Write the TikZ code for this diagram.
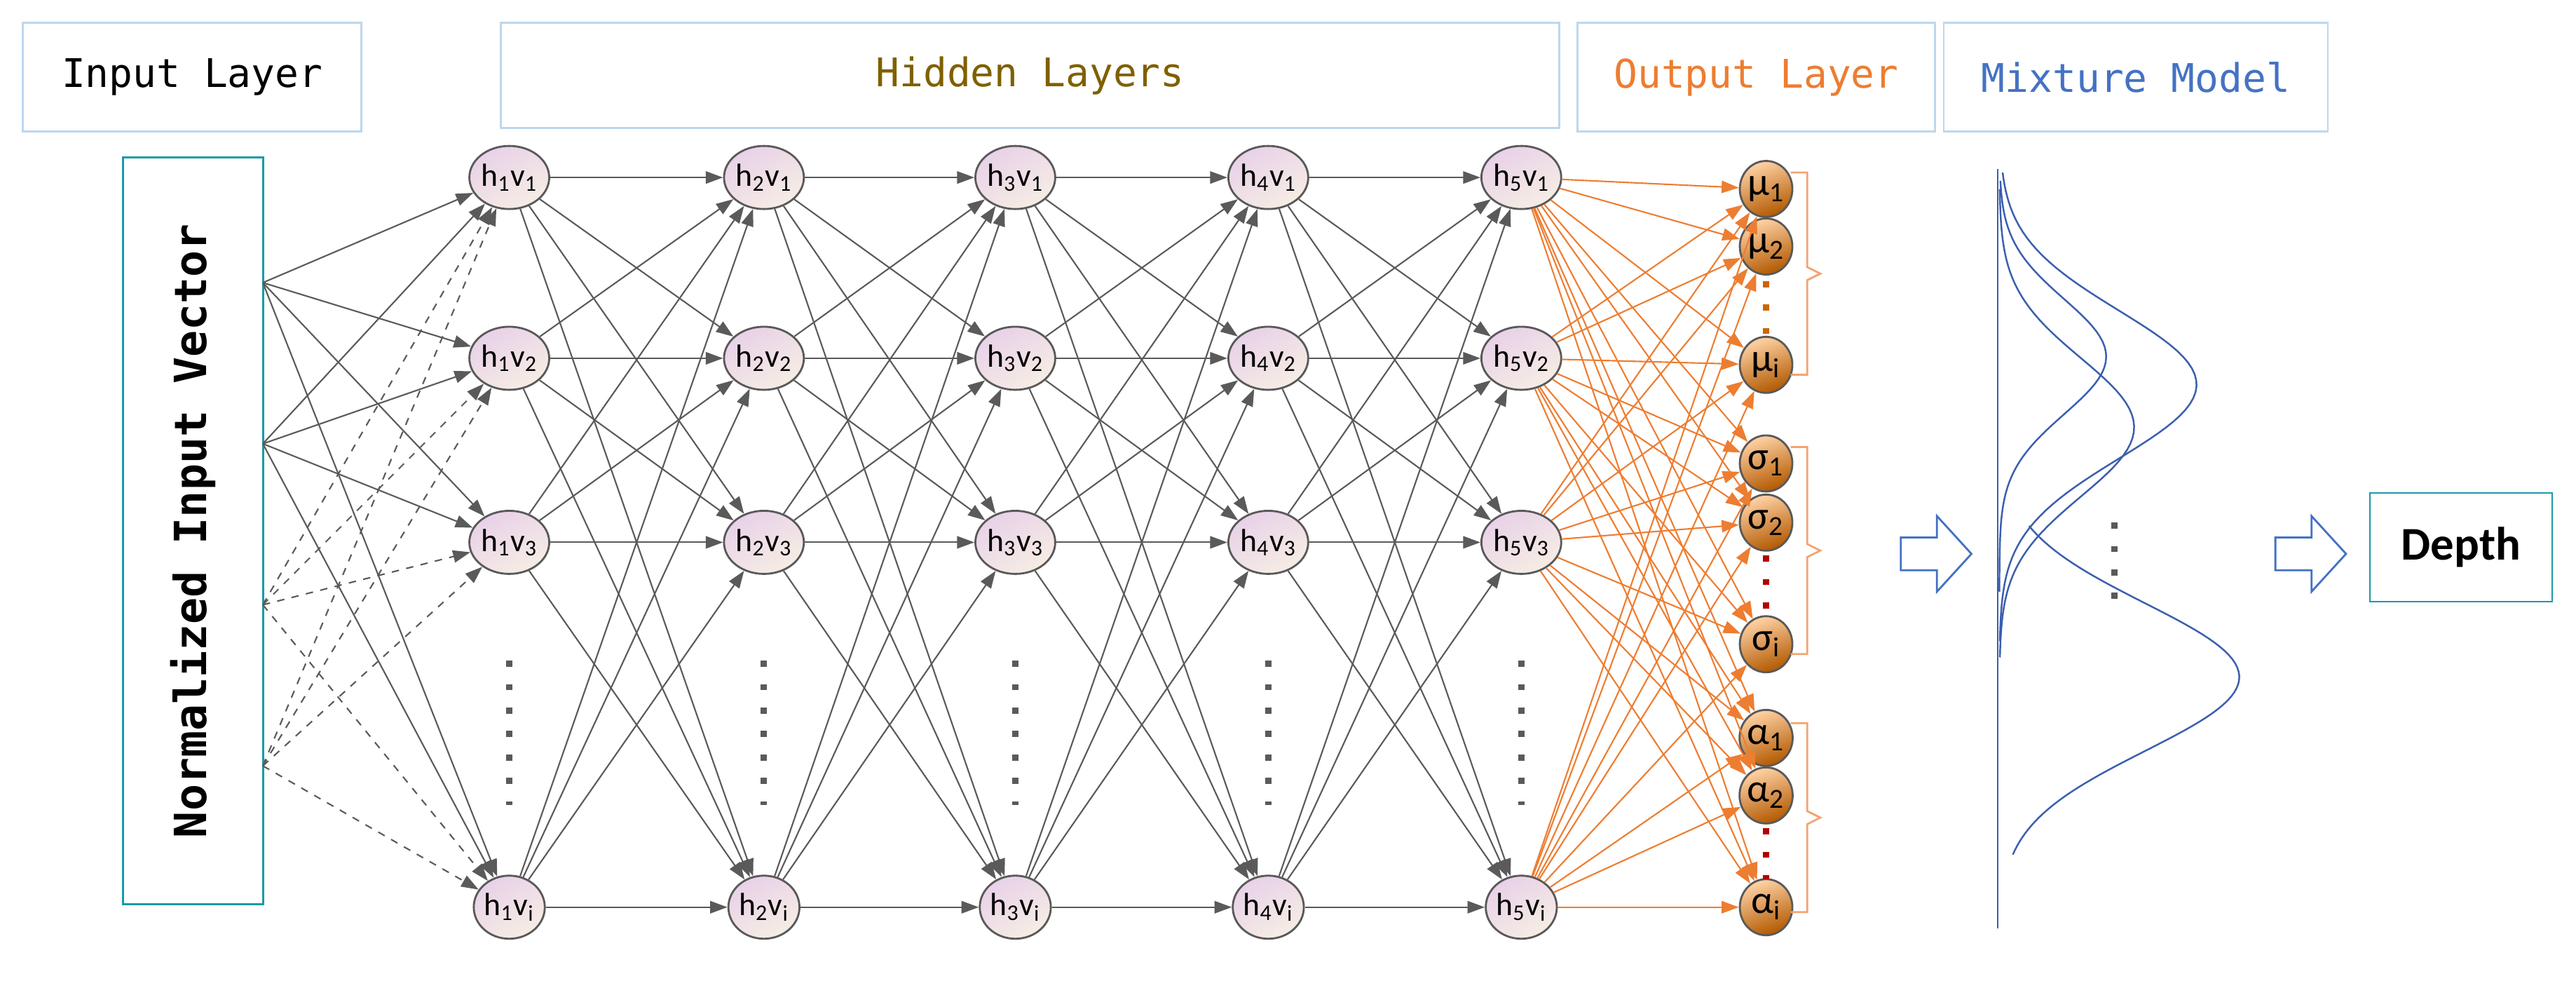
\documentclass[tikz,border=0pt]{standalone}
\usepackage{fontspec}
\setmainfont{Carlito}
\newfontfamily\monofont{DejaVu Sans Mono}
\usetikzlibrary{arrows.meta,shapes.geometric}
\definecolor{boxblue}{HTML}{BDD7EE}
\definecolor{teal}{HTML}{1A9AA8}
\definecolor{hidtext}{HTML}{7F6000}
\definecolor{outorange}{HTML}{ED7D31}
\definecolor{mixblue}{HTML}{3B5FAE}
\definecolor{headblue}{HTML}{4472C4}
\definecolor{edgegray}{HTML}{5A5A5A}
\tikzset{
  head/.style={draw=boxblue,line width=0.8pt,font=\monofont\fontsize{16}{18}\selectfont},
  hid/.style={ellipse,draw=gray!70!black,line width=0.8pt,minimum width=0.80cm,minimum height=0.90cm,
    inner sep=0pt,top color=violet!18,bottom color=brown!14,shading angle=30,font=\fontsize{13}{14}\selectfont},
  outnode/.style={ellipse,draw=gray!70!black,line width=0.8pt,minimum width=0.75cm,minimum height=0.80cm,
    inner sep=0pt,top color=orange!35,bottom color=orange!70!black,shading angle=20,font=\fontsize{16}{17}\selectfont},
  edge/.style={edgegray,line width=0.6pt,-{Triangle[length=7pt,width=5pt]}},
  oedge/.style={outorange,line width=0.6pt,-{Triangle[length=7pt,width=5pt]}},
  brace/.style={outorange!70,line width=0.8pt},
  mix/.style={mixblue,line width=0.7pt},
  dots/.style={line width=2.5pt,dash pattern=on 2.5pt off 7pt},
  bigarrow/.style={draw=headblue,line width=0.8pt,line join=miter},
}
\begin{document}
\begin{tikzpicture}[x=0.02344cm,y=-0.02344cm]
\useasboundingbox (0,0) rectangle (1568,596.5);
% headers
\node[head,minimum width=4.83cm,minimum height=1.55cm] (hin) at (117,47) {Input Layer};
\node[head,minimum width=15.1cm,minimum height=1.5cm,text=hidtext] (hhid) at (627,46) {Hidden Layers};
\node[head,minimum width=5.1cm,minimum height=1.55cm,text=outorange] (hout) at (1069,47) {Output Layer};
\node[head,minimum width=5.48cm,minimum height=1.55cm,text=headblue] (hmix) at (1300,47) {Mixture Model};
% input vector
\node[draw=teal,line width=0.8pt,minimum width=2.0cm,minimum height=10.65cm] (vec) at (117.5,323) {};
\node[rotate=90,font=\monofont\bfseries\fontsize{18}{20}\selectfont] (vectext) at (117.5,323) {Normalized Input Vector};
\foreach \i/\y in {1/172,2/270,3/368,4/466}
  \coordinate (in\i) at (160,\y);
% hidden nodes
\foreach \l/\x in {1/310,2/465,3/618,4/772,5/926}{
  \foreach \r/\y/\s in {1/108/1,2/218/2,3/330/3,4/552/i}
    \node[hid] (h\l\r) at (\x,\y) {h\textsubscript{\l}v\textsubscript{\s}};
  \draw[dots,edgegray] (\x,402) -- (\x,490);
}
% output nodes
\foreach \k/\y/\lab in {1/115/μ\textsubscript{1},2/150/μ\textsubscript{2},3/222/μ\textsubscript{i},
  4/282/σ\textsubscript{1},5/318/σ\textsubscript{2},6/392/σ\textsubscript{i},
  7/449/α\textsubscript{1},8/484/α\textsubscript{2},9/552/α\textsubscript{i}}
  \node[outnode] (o\k) at (1075,\y) {\lab};
\draw[dots,orange!80!black] (1075,171) -- (1075,204);
\draw[dots,red!70!black] (1075,338) -- (1075,375);
\draw[dots,red!70!black] (1075,504) -- (1075,535);
% connections
\foreach \i in {1,2}
  \foreach \r in {1,...,4}
    \draw[edge] (in\i) -- (h1\r);
\foreach \i in {3,4}
  \foreach \r in {1,...,4}
    \draw[edge,dashed] (in\i) -- (h1\r);
\foreach \l [evaluate=\l as \n using int(\l+1)] in {1,...,4}
  \foreach \a in {1,...,4}
    \foreach \b in {1,...,4}
      \draw[edge] (h\l\a) -- (h\n\b);
\foreach \a in {1,...,4}
  \foreach \b in {1,...,9}
    \draw[oedge] (h5\a) -- (o\b);
% braces
\foreach \tp/\bt in {105/228,272/398,440/555}
  \draw[brace] (1090,\tp) -- (1100,\tp) -- (1100,{(\tp+\bt)/2-4}) -- (1108,{(\tp+\bt)/2}) -- (1100,{(\tp+\bt)/2+4}) -- (1100,\bt) -- (1090,\bt);
% mixture
\draw[mix] (1216,103) -- (1216,565);
\draw[mix] plot[domain=105:390,samples=80] ({1217+120*exp(-((\x-234)/45)^2/2)},\x);
\draw[mix] plot[domain=115:400,samples=80] ({1217+82*exp(-((\x-260)/42)^2/2)},\x);
\draw[mix] plot[domain=110:360,samples=80] ({1217+65*exp(-((\x-217)/35)^2/2)},\x);
\draw[mix] plot[domain=320:520,samples=80] ({1217+146*exp(-((\x-412)/45)^2/2)},\x);
\draw[dots,edgegray] (1287,318) -- (1287,365);
% result
\foreach \ax in {1157,1385}
  \draw[bigarrow] (\ax,327) -- (\ax+22,327) -- (\ax+22,314) -- (\ax+43,337) -- (\ax+22,360) -- (\ax+22,347) -- (\ax,347) -- cycle;
\node[draw=teal,line width=0.8pt,minimum width=2.6cm,minimum height=1.55cm,font=\bfseries\fontsize{19}{21}\selectfont] (depth) at (1498,333) {Depth};
\end{tikzpicture}
\end{document}
